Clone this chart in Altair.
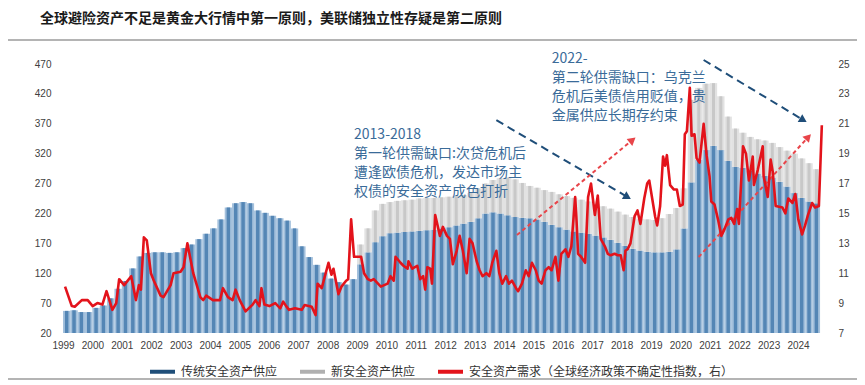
import math
import altair as alt
import pandas as pd

# ---------------- data ----------------
quarters = [f"{1999 + i // 4}Q{i % 4 + 1}" for i in range(103)]

traditional_supply = [
    57, 58, 55, 55,      # 1999
    62, 66, 78, 94,      # 2000
    107, 128, 148, 154,  # 2001
    155, 155, 154, 155,  # 2002
    162, 168, 177, 186,  # 2003
    195, 210, 230, 237,  # 2004
    239, 237, 225, 221,  # 2005
    216, 212, 208, 195,  # 2006
    165, 147, 134, 121,  # 2007
    111, 105, 101, 110,  # 2008
    135, 155, 172, 182,  # 2009
    187, 188, 189, 190,  # 2010
    191, 192, 193, 195,  # 2011
    197, 200, 203, 206,  # 2012
    212, 220, 222, 220,  # 2013
    217, 214, 213, 212,  # 2014
    210, 206, 201, 197,  # 2015
    193, 190, 188, 186,  # 2016
    183, 180, 176, 171,  # 2017
    166, 161, 158, 156,  # 2018
    155, 155, 156, 160,  # 2019
    195, 272, 310, 326,  # 2020
    333, 326, 308, 298,  # 2021
    296, 291, 287, 283,  # 2022
    280, 273, 265, 254,  # 2023
    246, 240, 237,       # 2024
]

new_supply = [0] * 40 + [
    33, 40, 53, 54,      # 2009
    52, 53, 53, 53,      # 2010
    54, 54, 53, 52,      # 2011
    51, 49, 48, 48,      # 2012
    50, 50, 54, 59,      # 2013
    63, 63, 58, 54,      # 2014
    53, 53, 55, 55,      # 2015
    56, 56, 55, 54,      # 2016
    53, 52, 52, 52,      # 2017
    52, 53, 53, 54,      # 2018
    54, 57, 63, 69,      # 2019
    67, 138, 120, 111,   # 2020
    105, 90, 74, 64,     # 2021
    59, 57, 57, 59,      # 2022
    58, 58, 60, 66,      # 2023
    66, 64, 57,          # 2024
]

demand_points = [
    (1999.07, 10.1), (1999.30, 8.8), (1999.40, 8.76), (1999.64, 9.2), (1999.84, 9.2),
    (2000.01, 8.8), (2000.17, 9.0), (2000.34, 8.9), (2000.48, 9.8), (2000.68, 8.55),
    (2000.81, 9.0), (2000.91, 10.6), (2001.08, 10.2), (2001.32, 10.8), (2001.48, 9.2),
    (2001.58, 10.2), (2001.65, 9.9), (2001.75, 13.4), (2001.85, 13.2), (2001.99, 11.0),
    (2002.09, 10.5), (2002.32, 9.5), (2002.42, 9.4), (2002.66, 10.2), (2002.76, 11.0),
    (2003.00, 11.1), (2003.10, 11.4), (2003.23, 13.0), (2003.43, 11.0), (2003.67, 9.4),
    (2003.77, 9.2), (2003.87, 9.5), (2004.10, 9.2), (2004.34, 9.2), (2004.44, 10.0),
    (2004.61, 9.4), (2004.77, 9.2), (2004.87, 9.9), (2005.01, 9.2), (2005.21, 8.45),
    (2005.45, 8.9), (2005.55, 9.2), (2005.68, 8.8), (2005.75, 10.0), (2005.85, 8.9),
    (2006.02, 8.8), (2006.22, 9.0), (2006.39, 8.65), (2006.49, 9.1), (2006.59, 8.8),
    (2006.69, 8.55), (2006.89, 8.65), (2007.12, 8.55), (2007.22, 8.87), (2007.46, 8.76),
    (2007.59, 8.2), (2007.66, 10.3), (2007.80, 10.0), (2008.03, 11.7), (2008.13, 10.9),
    (2008.20, 11.3), (2008.37, 9.6), (2008.47, 10.1), (2008.63, 10.5), (2008.70, 10.6),
    (2008.80, 14.6), (2008.90, 12.1), (2009.14, 12.1), (2009.24, 11.0), (2009.37, 10.6),
    (2009.47, 10.5), (2009.57, 10.6), (2009.81, 10.1), (2010.04, 10.3), (2010.14, 10.8),
    (2010.25, 10.5), (2010.31, 12.1), (2010.48, 11.7), (2010.58, 11.5), (2010.72, 11.3),
    (2010.75, 11.8), (2010.88, 11.3), (2011.05, 11.5), (2011.15, 10.6), (2011.25, 10.8),
    (2011.32, 9.9), (2011.39, 11.4), (2011.49, 11.3), (2011.55, 10.3), (2011.66, 14.9),
    (2011.82, 13.5), (2011.92, 14.1), (2012.06, 13.5), (2012.16, 13.3), (2012.26, 11.6),
    (2012.39, 12.5), (2012.49, 13.5), (2012.60, 12.5), (2012.73, 11.0), (2012.83, 13.3),
    (2012.93, 13.0), (2013.07, 11.8), (2013.17, 11.2), (2013.27, 10.8), (2013.40, 11.0),
    (2013.50, 10.8), (2013.60, 11.7), (2013.74, 12.5), (2013.84, 11.0), (2013.94, 10.3),
    (2014.07, 10.8), (2014.17, 10.3), (2014.27, 10.5), (2014.41, 10.0), (2014.48, 9.8),
    (2014.61, 10.3), (2014.74, 11.2), (2014.84, 10.8), (2014.95, 11.7), (2015.08, 11.2),
    (2015.18, 10.5), (2015.28, 10.3), (2015.41, 11.2), (2015.52, 11.4), (2015.62, 11.2),
    (2015.75, 12.1), (2015.85, 10.5), (2015.95, 12.3), (2016.09, 12.6), (2016.19, 12.1),
    (2016.29, 12.8), (2016.42, 16.1), (2016.46, 14.8), (2016.52, 12.3), (2016.62, 12.1),
    (2016.76, 11.7), (2016.86, 16.1), (2016.96, 17.0), (2017.09, 14.9), (2017.19, 16.2),
    (2017.29, 13.3), (2017.43, 12.8), (2017.53, 12.3), (2017.63, 12.2), (2017.76, 12.3),
    (2017.87, 12.2), (2017.97, 12.2), (2018.07, 11.2), (2018.13, 12.5), (2018.20, 12.6),
    (2018.30, 13.0), (2018.44, 14.8), (2018.54, 15.2), (2018.64, 14.3), (2018.77, 16.0),
    (2018.87, 17.0), (2018.94, 17.2), (2019.04, 16.0), (2019.14, 14.8), (2019.21, 14.2),
    (2019.31, 15.5), (2019.41, 18.8), (2019.48, 18.2), (2019.54, 18.9), (2019.65, 16.9),
    (2019.78, 16.6), (2019.88, 16.6), (2019.98, 15.5), (2020.08, 15.6), (2020.15, 20.3),
    (2020.22, 20.5), (2020.32, 23.4), (2020.38, 20.2), (2020.48, 20.3), (2020.55, 18.7),
    (2020.65, 18.4), (2020.79, 21.0), (2020.89, 18.9), (2020.99, 17.5), (2021.05, 15.8),
    (2021.16, 15.6), (2021.29, 14.5), (2021.39, 13.5), (2021.49, 13.9), (2021.63, 14.6),
    (2021.73, 14.7), (2021.83, 14.3), (2021.93, 15.3), (2021.99, 14.3), (2022.13, 19.5),
    (2022.23, 19.0), (2022.33, 17.2), (2022.46, 18.8), (2022.50, 16.9), (2022.63, 17.9),
    (2022.80, 19.5), (2022.83, 17.5), (2022.97, 16.1), (2023.07, 18.6), (2023.14, 17.8),
    (2023.24, 15.5), (2023.47, 15.4), (2023.57, 15.0), (2023.67, 16.0), (2023.81, 15.7),
    (2023.91, 16.3), (2024.01, 14.6), (2024.14, 13.6), (2024.24, 14.2), (2024.34, 14.9),
    (2024.48, 15.7), (2024.58, 15.4), (2024.71, 15.5), (2024.81, 20.9),
]

series_names = ["传统安全资产供应", "新安全资产供应", "安全资产需求（全球经济政策不确定性指数，右）"]
series_colors = ["#1f4e79", "#b0b0b0", "#e3131b"]

title_text = "全球避险资产不足是黄金大行情中第一原则，美联储独立性存疑是第二原则"
note1_lines = ["2013-2018", "第一轮供需缺口:次贷危机后", "遭逢欧债危机，发达市场主", "权债的安全资产成色打折"]
note2_lines = ["2022-", "第二轮供需缺口：乌克兰", "危机后美债信用贬值，贵", "金属供应长期存约束"]
note_anchor_t = [2008.90, 2015.62]
note_anchor_v = [362.9, 490.0]

# arrows: (id, kind, start_t, start_v, end_t, end_v)   (left-axis units)
arrows = [
    ("a1", "blue", 2013.74, 376.0, 2018.20, 247.5),
    ("a2", "red", 2014.44, 183.9, 2018.37, 342.9),
    ("a3", "blue", 2020.79, 476.7, 2024.18, 376.3),
    ("a4", "red", 2020.62, 147.1, 2024.35, 347.9),
]

# ---------------- layout ----------------
X0, X1 = 1999, 2024.85
Y0, Y1 = 20, 470
R0, R1 = 7, 25
W, H = 770, 269
FONT_CJK = "Noto Sans CJK SC"
FONT_NUM = "Liberation Sans"

bars = pd.DataFrame({"q": quarters, "trad": traditional_supply, "new": new_supply})
bars["t0"] = bars["q"].map(lambda q: int(q[:4]) + (int(q[-1]) - 1) * 0.25)
bars["t1"] = bars["t0"] + 0.25
bars["tm"] = bars["t0"] + 0.125
bars["top"] = bars["trad"] + bars["new"]

demand = pd.DataFrame(demand_points, columns=["t", "v"])
demand["s"] = series_names[2]

px_t = W / (X1 - X0)
px_v = H / (Y1 - Y0)
seg_rows, head_rows = [], []
for aid, kind, t0, v0, t1, v1 in arrows:
    seg_rows += [{"id": aid, "kind": kind, "t": t0, "v": v0},
                 {"id": aid, "kind": kind, "t": t1, "v": v1}]
    dx = (t1 - t0) * px_t
    dy = -(v1 - v0) * px_v
    ang = math.degrees(math.atan2(dx, -dy)) % 360
    head_rows.append({"id": aid, "kind": kind, "t": t1, "v": v1, "ang": ang})
segs = pd.DataFrame(seg_rows)
heads = pd.DataFrame(head_rows)

xscale = alt.Scale(domain=[X0, X1], nice=False, zero=False)
yscale = alt.Scale(domain=[Y0, Y1], nice=False, zero=False)
rscale = alt.Scale(domain=[R0, R1], nice=False, zero=False)

xaxis = alt.Axis(values=list(range(1999, 2025)), format="d", title=None, ticks=False,
                 domain=False, grid=False, labelFont="Liberation Sans Narrow, Liberation Sans",
                 labelFontSize=10, labelColor="#404040", labelPadding=7, labelOverlap=False,
                 labelFlush=False, labelBound=False)
yaxis = alt.Axis(values=list(range(20, 471, 50)), title=None, ticks=False, domain=False,
                 grid=False, labelFont=FONT_NUM, labelFontSize=10, labelColor="#404040",
                 labelPadding=7, labelOverlap=False, labelFlush=False, labelBound=False)
raxis = alt.Axis(values=list(range(7, 26, 2)), title=None, ticks=False, domain=False,
                 grid=False, orient="right", labelFont=FONT_NUM, labelFontSize=10,
                 labelColor="#404040", labelPadding=10, labelOverlap=False,
                 labelFlush=False, labelBound=False)


def X(field):
    return alt.X(field, scale=xscale, axis=xaxis)


def Y(field):
    return alt.Y(field, scale=yscale, axis=yaxis)


blue_band = alt.Chart(bars).mark_bar(color="#a3c0dc").encode(
    x=X("t0:Q"), x2="t1:Q", y=Y("trad:Q"), y2=alt.datum(Y0))
blue_stripe = alt.Chart(bars).mark_bar(color="#5486b5", size=3.5).encode(
    x=X("tm:Q"), y=Y("trad:Q"), y2=alt.datum(Y0))
gray_band = alt.Chart(bars).mark_bar(color="#e2e2e2").encode(
    x=X("t0:Q"), x2="t1:Q", y=Y("top:Q"), y2="trad:Q")
gray_stripe = alt.Chart(bars).mark_bar(color="#c8c8c8", size=3).encode(
    x=X("tm:Q"), y=Y("top:Q"), y2="trad:Q")

blue_arrows = alt.Chart(segs[segs.kind == "blue"]).mark_line(
    color="#1f4e79", strokeWidth=2, strokeDash=[8, 5]).encode(x=X("t:Q"), y=Y("v:Q"), detail="id:N")
red_arrows = alt.Chart(segs[segs.kind == "red"]).mark_line(
    color="#e8454a", strokeWidth=2, strokeDash=[4, 3]).encode(x=X("t:Q"), y=Y("v:Q"), detail="id:N")
blue_heads = alt.Chart(heads[heads.kind == "blue"]).mark_point(
    shape="triangle-up", filled=True, size=80, color="#1f4e79", opacity=1).encode(
    x=X("t:Q"), y=Y("v:Q"), angle=alt.Angle("ang:Q", scale=None))
red_heads = alt.Chart(heads[heads.kind == "red"]).mark_point(
    shape="triangle-up", filled=True, size=80, color="#e8454a", opacity=1).encode(
    x=X("t:Q"), y=Y("v:Q"), angle=alt.Angle("ang:Q", scale=None))

note1 = alt.Chart(pd.DataFrame({"t": [note_anchor_t[0]], "v": [note_anchor_v[0]]})).mark_text(
    text=note1_lines, align="left", baseline="top", lineHeight=19, font=FONT_CJK,
    fontSize=14, color="#3a6b99").encode(x=X("t:Q"), y=Y("v:Q"))
note2 = alt.Chart(pd.DataFrame({"t": [note_anchor_t[1]], "v": [note_anchor_v[1]]})).mark_text(
    text=note2_lines, align="left", baseline="top", lineHeight=19, font=FONT_CJK,
    fontSize=14, color="#3a6b99").encode(x=X("t:Q"), y=Y("v:Q"))

one = pd.DataFrame({"k": [0]})
title = alt.Chart(one).mark_text(text=title_text, align="left", baseline="middle",
                                 font=FONT_CJK, fontSize=14, fontWeight="bold",
                                 color="#1a1a1a").encode(x=alt.value(-18), y=alt.value(-45))
top_rule = alt.Chart(one).mark_rule(color="#b4b4b4", strokeWidth=2).encode(
    x=alt.value(-50), x2=alt.value(799), y=alt.value(-24))
bottom_rule = alt.Chart(one).mark_rule(color="#b4b4b4", strokeWidth=2).encode(
    x=alt.value(-50), x2=alt.value(799), y=alt.value(315))

left = alt.layer(blue_band, blue_stripe, gray_band, gray_stripe,
                 blue_arrows, red_arrows, blue_heads, red_heads,
                 note1, note2, title, top_rule, bottom_rule)

right = alt.Chart(demand).mark_line(strokeWidth=2.6, strokeJoin="round").encode(
    x=X("t:Q"),
    y=alt.Y("v:Q", scale=rscale, axis=raxis),
    color=alt.Color("s:N", scale=alt.Scale(domain=series_names, range=series_colors),
                    legend=alt.Legend(orient="none", legendX=90, legendY=293,
                                      direction="horizontal", title=None,
                                      symbolType="stroke", symbolSize=625,
                                      symbolStrokeWidth=4, labelFont=FONT_CJK,
                                      labelFontSize=12, labelColor="#333333",
                                      columnPadding=14, labelOffset=4, padding=0,
                                      labelLimit=400)))

chart = alt.layer(left, right).resolve_scale(y="independent").properties(
    width=W, height=H,
    padding={"left": 50, "top": 56, "right": 29, "bottom": 52},
    autosize=alt.AutoSizeParams(type="none"),
).configure_view(stroke=None)

chart.save("out.html", embed_options={"renderer": "svg", "actions": False})
